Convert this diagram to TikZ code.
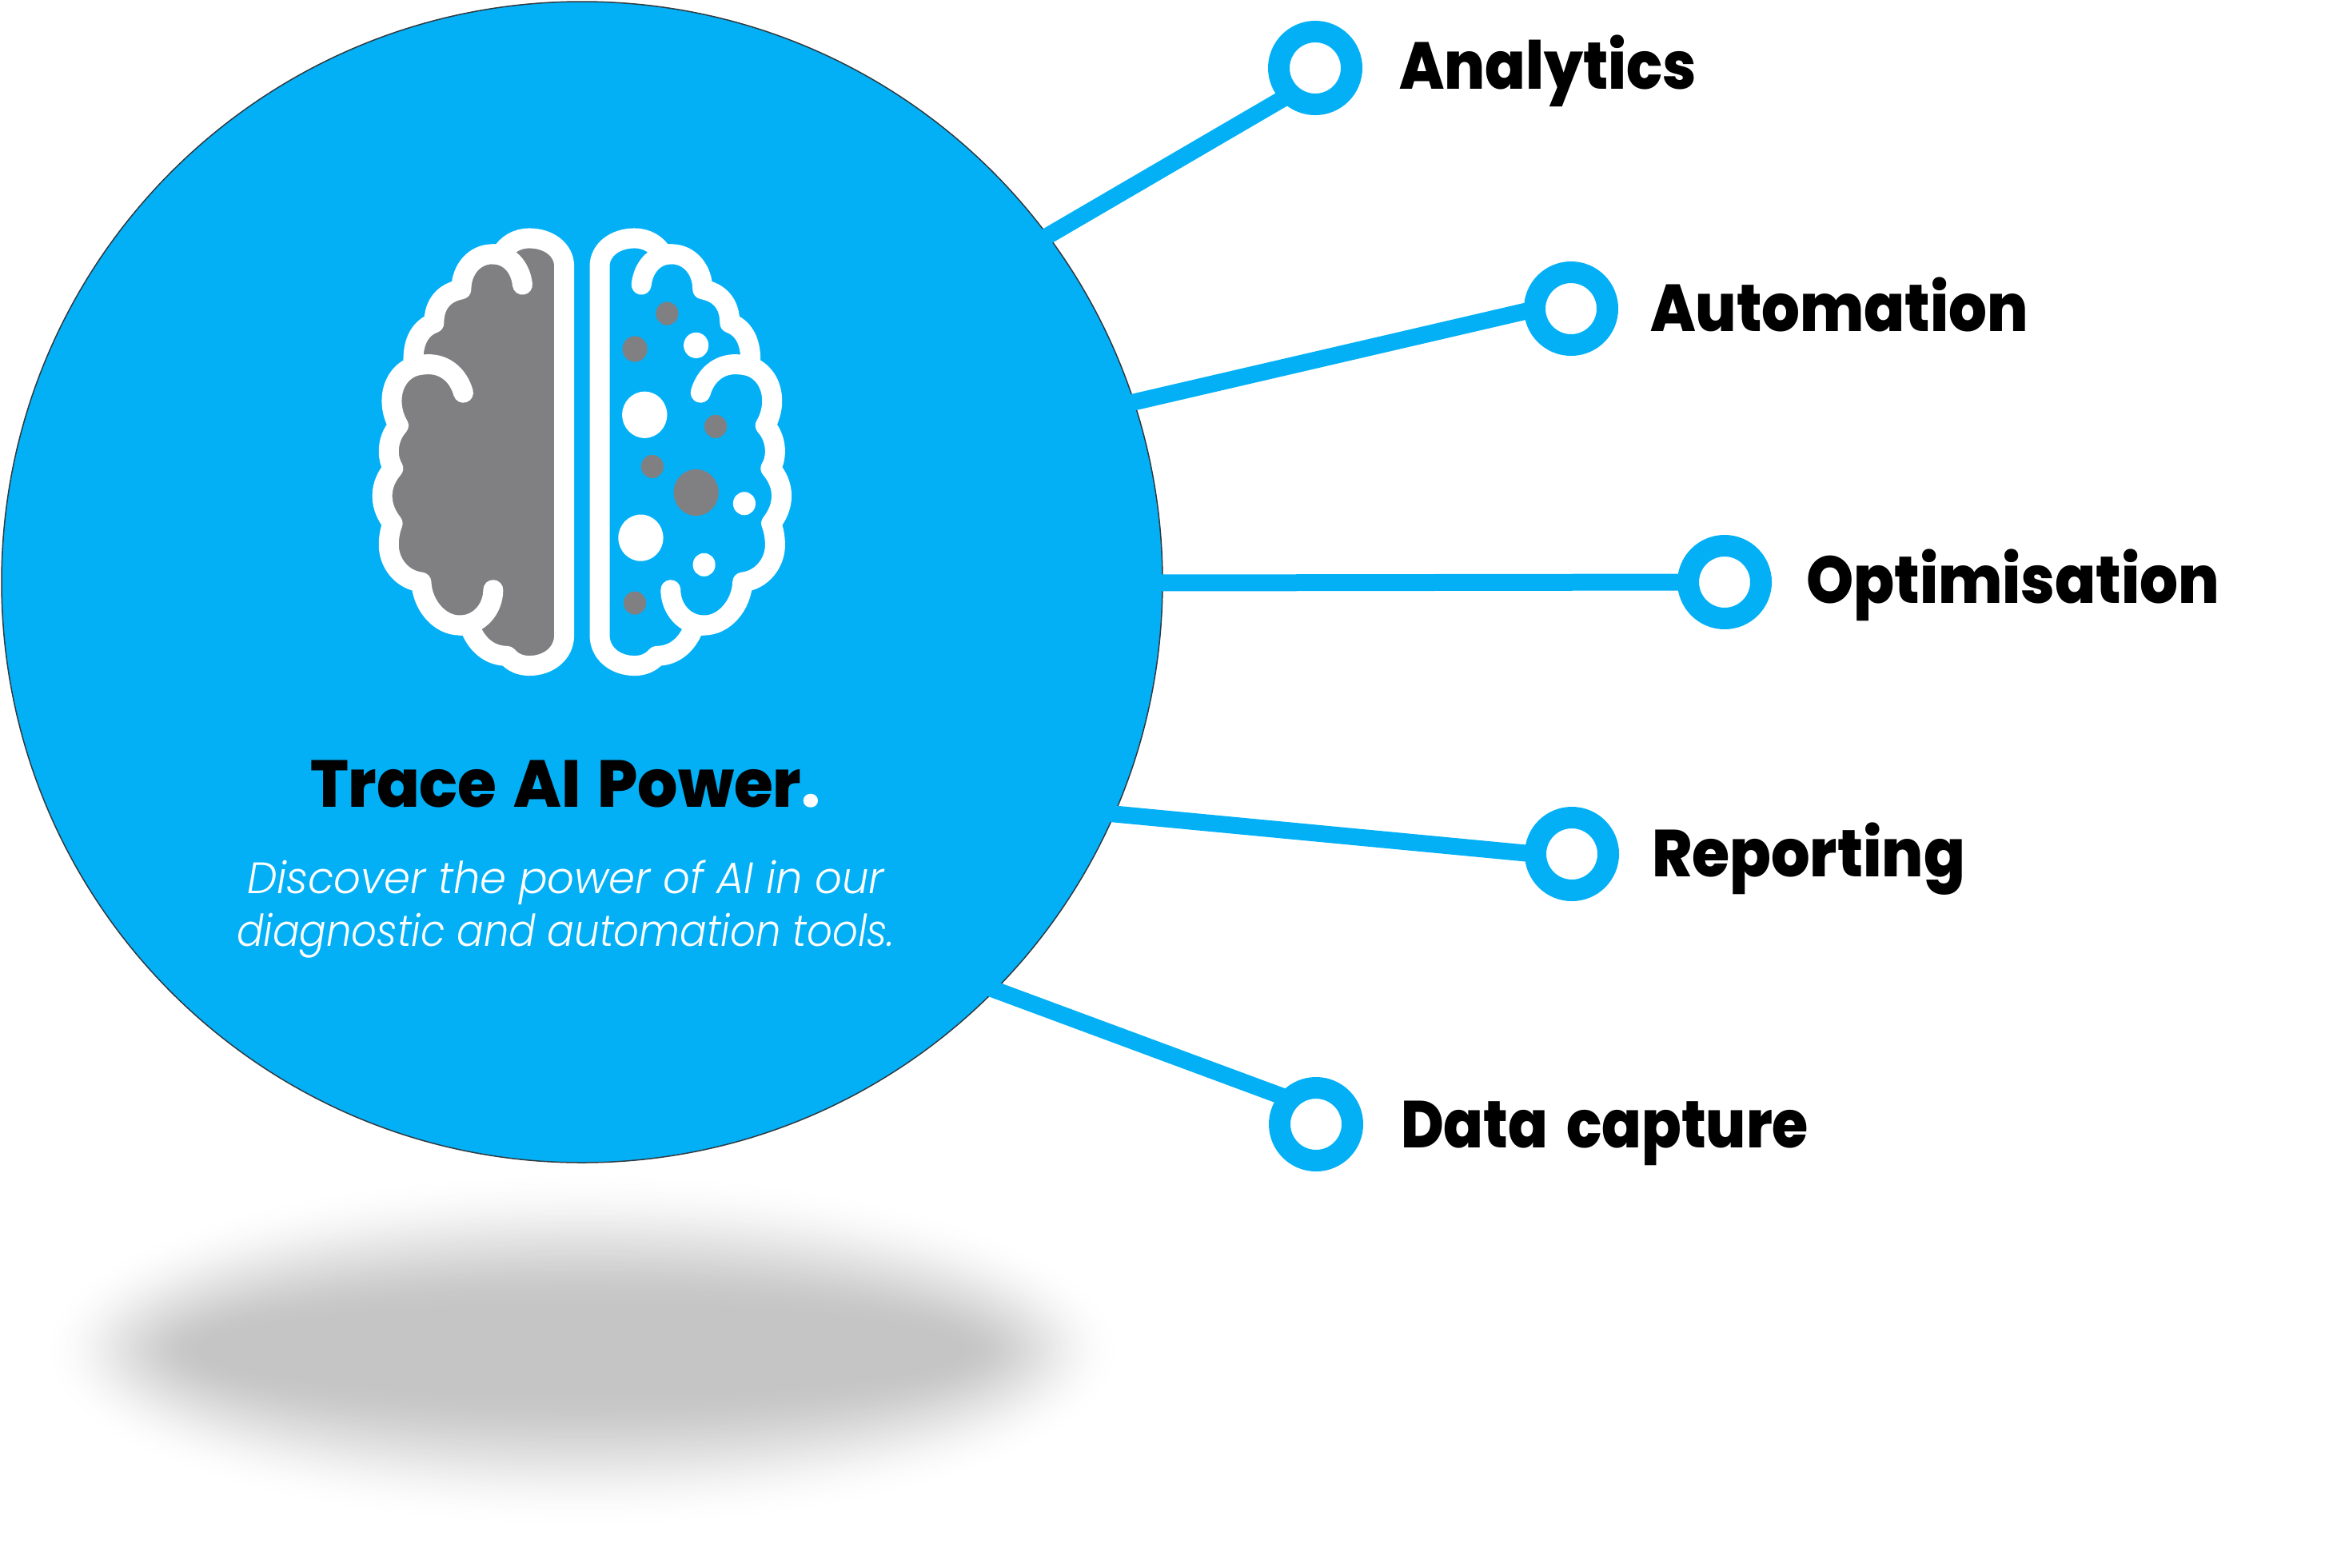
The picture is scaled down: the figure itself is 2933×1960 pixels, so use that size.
\documentclass[tikz,border=0pt]{standalone}
\usepackage{graphicx}
\usepackage{fontspec}
\setmainfont{Poppins}
\newfontfamily\headfont{Poppins ExtraBold}
\newfontfamily\tagfont{Poppins Light Italic}
\definecolor{traceblue}{HTML}{03B0F6}
\definecolor{braingray}{HTML}{807F82}
\definecolor{shadowgray}{HTML}{C5C5C5}
\definecolor{rimdark}{HTML}{2E3A42}
\newcommand\fitw[2]{\resizebox{#1pt}{\height}{#2}}
\tikzset{
  ringnode/.style={circle,draw=traceblue,line width=27pt,fill=white,inner sep=0pt,minimum size=91pt},
  connector/.style={draw=traceblue,line width=21pt},
  labeltext/.style={anchor=base west,inner sep=0pt,outer sep=0pt,text=black,font=\headfont\fontsize{83}{83}\selectfont},
  tagtext/.style={anchor=base west,inner sep=0pt,outer sep=0pt,text=white,font=\tagfont\fontsize{55}{55}\selectfont},
  brainline/.style={draw=white,line width=25pt,line join=round,line cap=round},
}
\newcommand\brainhalf[1]{%
  \path[brainline,fill=#1]
    (718,1370) -- (718,165)
    .. controls (718,110) and (665,73) .. (600,73)
    .. controls (560,73) and (525,92) .. (505,125)
    -- (475,125)
    .. controls (415,125) and (370,175) .. (370,240)
    .. controls (315,250) and (278,285) .. (278,350)
    .. controls (235,365) and (208,405) .. (208,470)
    -- (215,490)
    .. controls (165,505) and (135,550) .. (135,605)
    .. controls (135,635) and (145,665) .. (158,685)
    .. controls (135,710) and (125,740) .. (125,770)
    .. controls (125,790) and (130,810) .. (140,825)
    .. controls (118,850) and (103,880) .. (103,915)
    .. controls (103,950) and (118,980) .. (138,1005)
    .. controls (130,1025) and (125,1050) .. (125,1075)
    .. controls (125,1135) and (170,1190) .. (235,1197)
    .. controls (238,1270) and (295,1338) .. (365,1338)
    -- (398,1340)
    .. controls (420,1400) and (465,1438) .. (525,1438)
    .. controls (545,1460) and (570,1470) .. (600,1470)
    .. controls (665,1470) and (718,1430) .. (718,1370) -- cycle;
  \draw[brainline] (577,225) .. controls (570,165) and (530,125) .. (475,125);
  \draw[brainline] (377,578) .. controls (360,520) and (315,485) .. (260,485)
    .. controls (240,485) and (225,488) .. (215,490);
  \draw[brainline] (478,1222) .. controls (478,1285) and (430,1338) .. (365,1338);
}
\begin{document}
\begin{tikzpicture}[x=1pt,y=-1pt]
\useasboundingbox (0,0) rectangle (2933,1960);
\fill[white] (0,0) rectangle (2933,1960);
% floor shadow
\foreach \i in {0,...,60}{
  \pgfmathsetmacro\tt{\i/60}
  \pgfmathsetmacro\pp{100*\tt*\tt*(3-2*\tt)}
  \pgfmathsetmacro\rx{675-205*\tt}
  \pgfmathsetmacro\ry{225-175*\tt}
  \fill[shadowgray!\pp!white] (728,1688) ellipse [x radius=\rx, y radius=\ry];
}
% main disc
\node[circle,fill=traceblue,draw=rimdark,line width=1.5pt,inner sep=0pt,minimum size=1452pt] (disc) at (728,728) {};
% end points of the connectors
\coordinate (s1) at (1297.5,302.5);
\coordinate (s2) at (1405,506);
\coordinate (s3) at (1440,729);
\coordinate (s4) at (1378,1016.5);
\coordinate (s5) at (1231,1233);
\coordinate (e1) at (1625,111.5);
\coordinate (e2) at (1935,383);
\coordinate (e3) at (2130,728);
\coordinate (e4) at (1940,1070);
\coordinate (e5) at (1625,1379);
\draw[connector] (s1) -- (e1);
\draw[connector] (s2) -- (e2);
\draw[connector] (s3) -- (e3);
\draw[connector] (s4) -- (e4);
\draw[connector] (s5) -- (e5);
\node[ringnode] (r1) at (1645,85) {};
\node[ringnode] (r2) at (1965,386) {};
\node[ringnode] (r3) at (2157,728) {};
\node[ringnode] (r4) at (1966,1068) {};
\node[ringnode] (r5) at (1646,1406) {};
% labels
\node[labeltext] (l1) at (1750,111) {\fitw{372}{Analytics}};
\node[labeltext] (l2) at (2064,414) {\fitw{473}{Automation}};
\node[labeltext] (l3) at (2259,754) {\fitw{517}{Optimisation}};
\node[labeltext] (l4) at (2066,1096) {\fitw{392}{Reporting}};
\node[labeltext] (l5) at (1752,1435) {\fitw{510}{Data\hspace{10pt} capture}};
% heading
\node[labeltext] (title) at (388,1009) {\fitw{638}{Trace\hspace{6pt} AI\hspace{6pt} Power\textcolor{white}{.}}};
\node[tagtext] (tag1) at (309,1117) {\fitw{797}{Discover the power of AI in our}};
\node[tagtext] (tag2) at (296,1183) {\fitw{823}{diagnostic and automation tools.}};
% brain
\begin{scope}[shift={(440,270)},x=0.36996pt,y=-0.3827pt]
  \brainhalf{braingray}
  \begin{scope}[shift={(1556,0)},xscale=-1]
    \brainhalf{none}
  \end{scope}
  \fill[braingray] (1066,319) circle (38) (957,435) circle (42) (1230,688) circle (38)
    (1016,819) circle (38) (1164,904) circle (76) (957,1265) circle (38);
  \fill[white] (1164,423) circle (42) (990,650) circle (76) (1327,940) circle (38)
    (977,1052) circle (76) (1191,1140) circle (38);
\end{scope}
\end{tikzpicture}
\end{document}
